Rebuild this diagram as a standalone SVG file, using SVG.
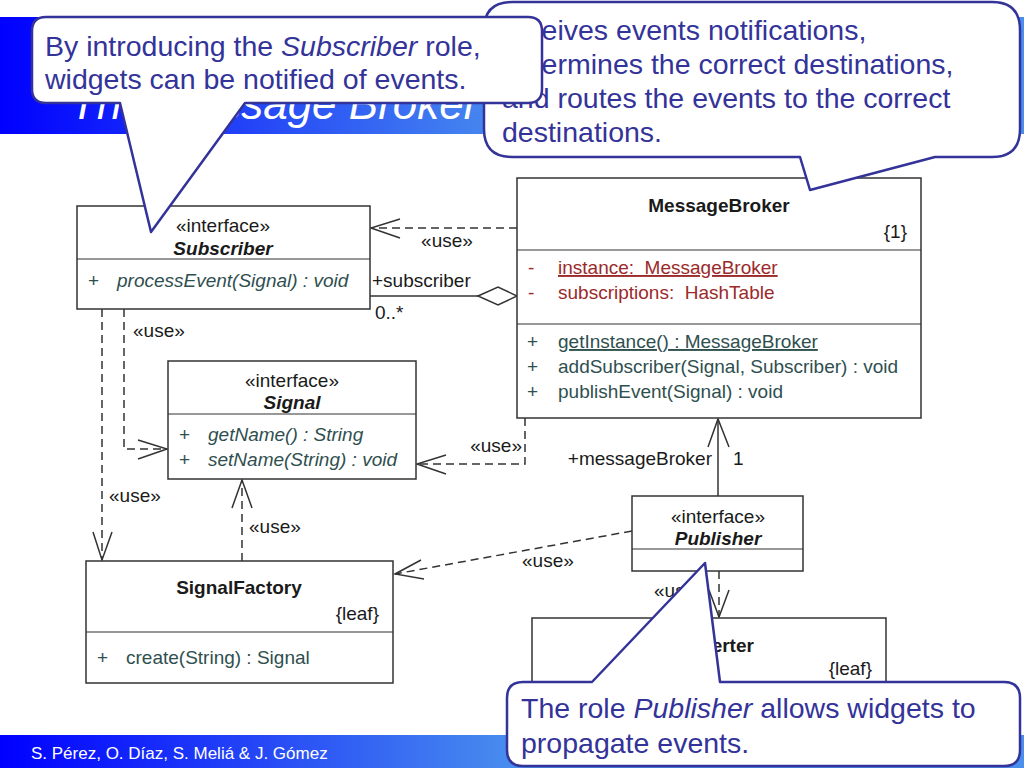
<svg xmlns="http://www.w3.org/2000/svg" width="1024" height="768" viewBox="0 0 1024 768">
<defs>
<linearGradient id="band" gradientUnits="userSpaceOnUse" x1="0" y1="0" x2="520" y2="0">
<stop offset="0" stop-color="#0000ff"/>
<stop offset="1" stop-color="#4a8fee"/>
</linearGradient>
<style>
text{font-family:"Liberation Sans",Arial,sans-serif;}
.box{fill:#fff;stroke:#333;stroke-width:1.5;}
.div{stroke:#333;stroke-width:1.2;}
.t{font-size:19px;fill:#1a1a1a;}
.c{text-anchor:middle;}
.e{text-anchor:end;}
.b{font-weight:bold;}
.i{font-style:italic;}
.op{font-size:19px;fill:#2f4f4f;}
.at{font-size:19px;fill:#9b2a2a;white-space:pre;}
.u{text-decoration:underline;}
.dash{fill:none;stroke:#333;stroke-width:1.5;stroke-dasharray:8 5;}
.sol{fill:none;stroke:#333;stroke-width:1.5;}
.head{fill:none;stroke:#333;stroke-width:1.5;}
.call{fill:#fff;stroke:#333399;stroke-width:2.5;stroke-linejoin:round;}
.ct{font-size:28.5px;fill:#333399;}
</style>
</defs>
<rect x="0" y="0" width="1024" height="768" fill="#fff"/>
<g id="header">
<rect x="0" y="17" width="1024" height="117" fill="url(#band)"/>
<text x="70" y="119" font-size="44" font-style="italic" fill="#fff">The Message Broker</text>
</g>
<g id="footer">
<rect x="0" y="735" width="1024" height="33" fill="url(#band)"/>
<text x="31" y="759" font-size="17" fill="#fff">S. Pérez, O. Díaz, S. Meliá &amp; J. Gómez</text>
</g>
<g id="connectors">
<path class="dash" d="M517,228 H371"/>
<polyline class="head" points="400,219 371,228 400,238"/>
<text class="t c" x="447" y="247">«use»</text>
<path class="sol" d="M370,296 H478"/>
<polygon points="478,296 498,287 517,296 498,305" fill="#fff" stroke="#333" stroke-width="1.5"/>
<text class="t" x="372" y="287">+subscriber</text>
<text class="t" x="375" y="319">0..*</text>
<path class="dash" d="M124,309 V449 H167"/>
<polyline class="head" points="138,440 167,449 138,459"/>
<text class="t" x="133" y="337">«use»</text>
<path class="dash" d="M102,309 V560"/>
<polyline class="head" points="93,532 102,560 112,532"/>
<text class="t" x="109" y="502">«use»</text>
<path class="dash" d="M242,561 V480"/>
<polyline class="head" points="232,508 242,480 252,508"/>
<text class="t" x="249" y="533">«use»</text>
<path class="dash" d="M525,418 V464 H417"/>
<polyline class="head" points="446,455 417,464 446,474"/>
<text class="t e" x="522" y="452">«use»</text>
<path class="sol" d="M718,496 V419"/>
<polyline class="head" points="708,447 718,419 729,447"/>
<text class="t e" x="712" y="465">+messageBroker</text>
<text class="t" x="733" y="465">1</text>
<path class="dash" d="M632,531 L395,574"/>
<polyline class="head" points="421,560 395,574 424,579"/>
<text class="t" x="522" y="567">«use»</text>
<path class="dash" d="M719,571 V617"/>
<polyline class="head" points="709,590 719,617 729,590"/>
<text class="t" x="654" y="597">«use»</text>
</g>
<g id="subscriber">
<rect class="box" x="77" y="206" width="293" height="103"/>
<line class="div" x1="77" y1="259" x2="370" y2="259"/>
<text class="t c" x="223" y="232">«interface»</text>
<text class="t c b i" x="223" y="255">Subscriber</text>
<text class="op" x="88" y="287">+</text>
<text class="op i" x="117" y="287">processEvent(Signal) : void</text>
</g>
<g id="messagebroker">
<rect class="box" x="517" y="178" width="404" height="240"/>
<line class="div" x1="517" y1="250" x2="921" y2="250"/>
<line class="div" x1="517" y1="324" x2="921" y2="324"/>
<text class="t c b" x="719" y="212">MessageBroker</text>
<text class="t e" x="907" y="238">{1}</text>
<text class="at" x="528" y="274">-</text>
<text class="at u" x="558" y="274" xml:space="preserve">instance:  MessageBroker</text>
<text class="at" x="528" y="299">-</text>
<text class="at" x="558" y="299" xml:space="preserve">subscriptions:  HashTable</text>
<text class="op" x="527" y="348">+</text>
<text class="op u" x="558" y="348">getInstance() : MessageBroker</text>
<text class="op" x="527" y="373">+</text>
<text class="op" x="558" y="373">addSubscriber(Signal, Subscriber) : void</text>
<text class="op" x="527" y="398">+</text>
<text class="op" x="558" y="398">publishEvent(Signal) : void</text>
</g>
<g id="signal">
<rect class="box" x="168" y="361" width="248" height="118"/>
<line class="div" x1="168" y1="414" x2="416" y2="414"/>
<text class="t c" x="292" y="387">«interface»</text>
<text class="t c b i" x="292" y="409">Signal</text>
<text class="op" x="179" y="441">+</text>
<text class="op i" x="208" y="441">getName() : String</text>
<text class="op" x="179" y="466">+</text>
<text class="op i" x="208" y="466">setName(String) : void</text>
</g>
<g id="signalfactory">
<rect class="box" x="86" y="561" width="307" height="122"/>
<line class="div" x1="86" y1="632" x2="393" y2="632"/>
<text class="t c b" x="239" y="594">SignalFactory</text>
<text class="t e" x="379" y="620">{leaf}</text>
<text class="op" x="97" y="664">+</text>
<text class="op" x="126" y="664">create(String) : Signal</text>
</g>
<g id="publisher">
<rect class="box" x="632" y="496" width="171" height="75"/>
<line class="div" x1="632" y1="549" x2="803" y2="549"/>
<text class="t c" x="718" y="523">«interface»</text>
<text class="t c b i" x="718" y="545">Publisher</text>
</g>
<g id="converter">
<rect class="box" x="532" y="618" width="354" height="100"/>
<text class="t c b" x="709" y="652">Converter</text>
<text class="t e" x="872" y="675">{leaf}</text>
</g>
<g id="callout-broker">
<path class="call" d="M512,2 H992 Q1020,2 1020,30 V129 Q1020,157 992,157 H935 L810,190 L800,157 H512 Q484,157 484,129 V30 Q484,2 512,2 Z"/>
<text class="ct" x="502" y="40">receives events notifications,</text>
<text class="ct" x="502" y="74">determines the correct destinations,</text>
<text class="ct" x="502" y="108">and routes the events to the correct</text>
<text class="ct" x="502" y="142">destinations.</text>
</g>
<g id="callout-subscriber">
<path class="call" d="M46,17 H528 Q542,17 542,31 V89 Q542,103 528,103 H245 L151,232 L120,103 H46 Q32,103 32,89 V31 Q32,17 46,17 Z"/>
<text class="ct" x="45" y="56">By introducing the <tspan font-style="italic">Subscriber</tspan> role,</text>
<text class="ct" x="45" y="89">widgets can be notified of events.</text>
</g>
<g id="callout-publisher">
<path class="call" d="M523,682 H592 L705,563 L720,682 H1004 Q1020,682 1020,698 V750 Q1020,766 1004,766 H523 Q507,766 507,750 V698 Q507,682 523,682 Z"/>
<text class="ct" x="521" y="718">The role <tspan font-style="italic">Publisher</tspan> allows widgets to</text>
<text class="ct" x="521" y="753">propagate events.</text>
</g>
</svg>
